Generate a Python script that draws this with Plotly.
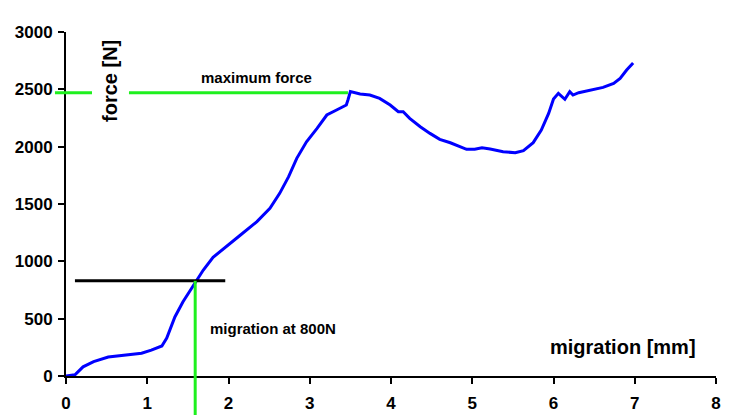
import plotly.graph_objects as go

# ---- data ----
migration_mm = [0.00, 0.11, 0.21, 0.34, 0.52, 0.75, 0.93, 1.05, 1.18, 1.24, 1.34, 1.44, 1.55, 1.61,
                1.69, 1.81, 1.94, 2.14, 2.35, 2.51, 2.63, 2.74, 2.84, 2.96, 3.09, 3.21, 3.33, 3.45,
                3.47, 3.50, 3.62, 3.74, 3.86, 3.99, 4.09, 4.15, 4.23, 4.36, 4.48, 4.60, 4.73, 4.85,
                4.93, 5.03, 5.12, 5.22, 5.38, 5.53, 5.63, 5.75, 5.85, 5.94, 6.00, 6.06, 6.10, 6.14,
                6.20, 6.24, 6.31, 6.45, 6.61, 6.74, 6.82, 6.90, 6.98]
force_N = [0, 10, 80, 125, 165, 180, 198, 225, 262, 330, 515, 648, 765, 835,
           924, 1035, 1113, 1225, 1346, 1462, 1593, 1738, 1898, 2043, 2160, 2276, 2320, 2363,
           2407, 2480, 2459, 2450, 2421, 2363, 2305, 2305, 2247, 2174, 2116, 2064, 2034, 2000,
           1977, 1977, 1991, 1980, 1956, 1947, 1965, 2035, 2145, 2290, 2415, 2465, 2436, 2413,
           2479, 2450, 2471, 2494, 2517, 2552, 2596, 2668, 2730]

max_force = 2470          # green horizontal reference
max_force_x_end = 3.47
max_force_gap = [0.32, 0.775]   # gap left for the axis title
ref_force = 830           # black horizontal at "800 N"
ref_force_span = [0.11, 1.96]
migration_at_800 = 1.59   # green vertical

x_ticks = [0, 1, 2, 3, 4, 5, 6, 7, 8]
y_ticks = [0, 500, 1000, 1500, 2000, 2500, 3000]

FONT = "Arial, 'Liberation Sans', sans-serif"
GREEN = "#1EF01E"

fig = go.Figure()
fig.add_trace(go.Scatter(x=migration_mm, y=force_N, mode="lines",
                         line=dict(color="#0000FF", width=3), showlegend=False))

shapes = [
    # max force line: stub left of axis + main segment
    dict(type="line", xref="paper", yref="y", x0=-0.017, x1=max_force_gap[0] / x_ticks[-1],
         y0=max_force, y1=max_force, line=dict(color=GREEN, width=3)),
    dict(type="line", xref="x", yref="y", x0=max_force_gap[1], x1=max_force_x_end,
         y0=max_force, y1=max_force, line=dict(color=GREEN, width=3)),
    # black line at 800N
    dict(type="line", xref="x", yref="y", x0=ref_force_span[0], x1=ref_force_span[1],
         y0=ref_force, y1=ref_force, line=dict(color="black", width=3)),
    # vertical green
    dict(type="line", xref="x", yref="y", x0=migration_at_800, x1=migration_at_800,
         y0=0, y1=ref_force, line=dict(color=GREEN, width=3)),
    dict(type="line", xref="x", yref="paper", x0=migration_at_800, x1=migration_at_800,
         y0=-0.13, y1=0, line=dict(color=GREEN, width=3)),
]

annotations = [
    dict(text="maximum force", x=2.35, y=2607, xref="x", yref="y", showarrow=False,
         font=dict(family=FONT, size=15, color="black", weight="bold"), xanchor="center", yanchor="middle"),
    dict(text="migration at 800N", x=1.75, y=410, xref="x", yref="y", showarrow=False,
         font=dict(family=FONT, size=15, color="black", weight="bold"), xanchor="left", yanchor="middle"),
    dict(text="migration [mm]", x=6.855, y=253, xref="x", yref="y", showarrow=False,
         font=dict(family=FONT, size=20, color="black", weight="bold"), xanchor="center", yanchor="middle"),
    dict(text="force [N]", x=0.54, y=2572, xref="x", yref="y", showarrow=False, textangle=-90,
         font=dict(family=FONT, size=20, color="black", weight="bold"), xanchor="center", yanchor="middle"),
]

fig.update_layout(
    width=729, height=415,
    margin=dict(l=66, r=13, t=32, b=39, pad=0),
    paper_bgcolor="white", plot_bgcolor="white",
    shapes=shapes, annotations=annotations,
    showlegend=False,
    xaxis=dict(range=[0, 8], tickvals=x_ticks, ticktext=[str(v) for v in x_ticks],
               showgrid=False, zeroline=False, showline=True, linecolor="black", linewidth=2,
               ticks="outside", ticklen=6, tickwidth=2, tickcolor="black",
               tickfont=dict(family=FONT, size=17, color="black", weight="bold"),
               ticklabelstandoff=5, automargin=False),
    yaxis=dict(range=[0, 3000], tickvals=y_ticks, ticktext=[str(v) for v in y_ticks],
               showgrid=False, zeroline=False, showline=True, linecolor="black", linewidth=2,
               ticks="outside", ticklen=6, tickwidth=2, tickcolor="black",
               tickfont=dict(family=FONT, size=17, color="black", weight="bold"),
               ticklabelstandoff=2, automargin=False),
)

fig.write_html("out.html")
